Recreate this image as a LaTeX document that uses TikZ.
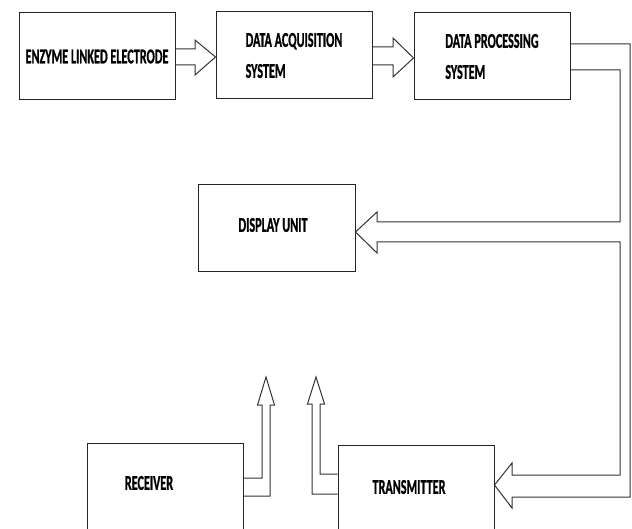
\documentclass[tikz,border=0pt]{standalone}
\usepackage{fontspec}
\usepackage{graphicx}
\setmainfont{Carlito}[BoldFeatures={FakeBold=1.2}]
\newcommand{\sq}[1]{\scalebox{0.58}[1]{#1}}
\tikzset{
  box/.style={draw=black!85, line width=1pt, minimum width=156pt, minimum height=87pt,
    inner sep=0pt, align=left, font=\fontsize{21}{31}\selectfont\bfseries},
  lbl/.style={font=\fontsize{21}{31}\selectfont\bfseries, inner sep=0pt},
  conn/.style={draw=black!80, line width=1pt, line join=miter}
}
\begin{document}
\begin{tikzpicture}[x=1pt,y=-1pt]
\useasboundingbox (0,0) rectangle (632,529);
\clip (0,0) rectangle (632,529);
\fill[white] (0,0) rectangle (632,529);
% boxes
\node[box] (b1) at (97,56.5) {\sq{ENZYME LINKED ELECTRODE}};
\node[box] (b2) at (294,55.5) {\sq{DATA ACQUISITION}\\\sq{SYSTEM}};
\node[box] (b3) at (492,56.5) {\sq{DATA PROCESSING}\\\sq{SYSTEM}};
\node[box,minimum width=157pt] (disp) at (276.5,228.5) {};
\node[lbl] at (273,225) {\sq{DISPLAY UNIT}};
\node[box] (rx) at (165,486.5) {};
\node[lbl] at (149,483) {\sq{RECEIVER}};
\node[box] (tx) at (416,488.5) {};
\node[lbl] at (409,487) {\sq{TRANSMITTER}};
% arrow 1
\draw[conn] (b1.east |- 0,49) -- (195,49) -- (195,40) -- (b2.west |- 0,57) -- (195,75) -- (195,65) -- (b1.east |- 0,65);
% arrow 2
\draw[conn] (b2.east |- 0,47) -- (393,47) -- (393,38) -- (b3.west |- 0,58) -- (393,77) -- (393,65) -- (b2.east |- 0,65);
% processing -> display -> transmitter -> processing
\draw[conn] (b3.east |- 0,70) -- (620,70) -- (620,222) -- (377,222) -- (377,212)
  -- (disp.east |- 0,232) -- (377,253) -- (377,242) -- (620,242) -- (620,475)
  -- (512,475) -- (512,463) -- (tx.east |- 0,485) -- (512,508) -- (512,497)
  -- (630,497) -- (630,44) -- (b3.east |- 0,44);
% receiver up arrow
\draw[conn] (rx.east |- 0,478) -- (262,478) -- (262,405) -- (257.5,405) -- (266,377)
  -- (274.5,405) -- (270,405) -- (270,496) -- (rx.east |- 0,496);
% transmitter up arrow
\draw[conn] (tx.west |- 0,474) -- (320,474) -- (320,404) -- (324.5,404) -- (316,377)
  -- (307.5,404) -- (312,404) -- (312,494) -- (tx.west |- 0,494);
\end{tikzpicture}
\end{document}
